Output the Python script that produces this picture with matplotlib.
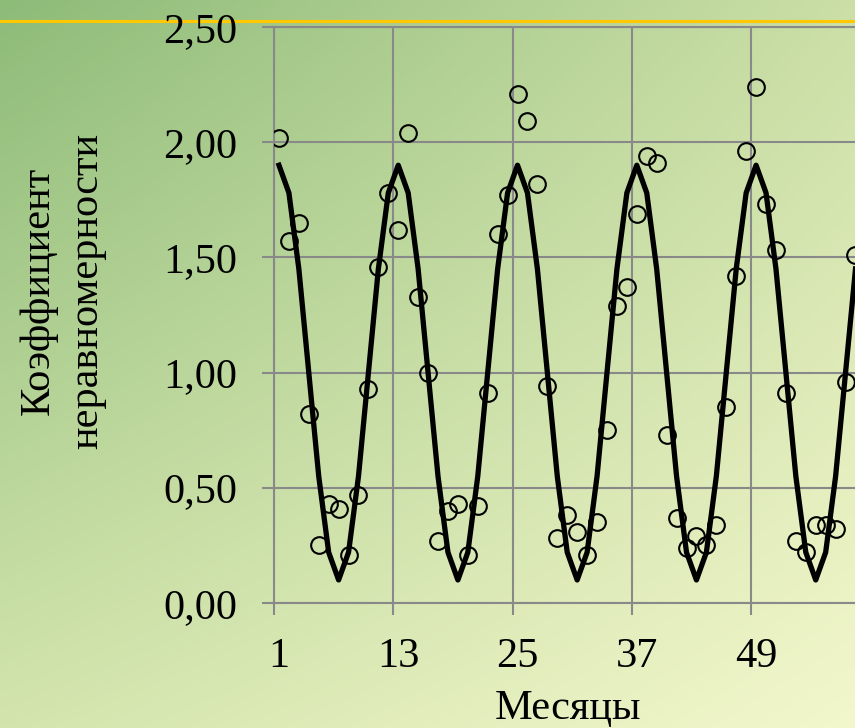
import matplotlib
matplotlib.use('Agg')
import matplotlib.pyplot as plt
import numpy as np

# месяцы и коэффициент неравномерности (точки)
months = list(range(1, 60))
coef = [2.02, 1.57, 1.65, 0.82, 0.25, 0.43, 0.41, 0.21, 0.47, 0.93, 1.46, 1.78,
        1.62, 2.04, 1.33, 1.00, 0.27, 0.40, 0.43, 0.21, 0.42, 0.91, 1.60, 1.77,
        2.21, 2.09, 1.82, 0.94, 0.28, 0.38, 0.31, 0.21, 0.35, 0.75, 1.29, 1.37,
        1.69, 1.94, 1.91, 0.73, 0.37, 0.24, 0.29, 0.25, 0.34, 0.85, 1.42, 1.96,
        2.24, 1.73, 1.53, 0.91, 0.27, 0.22, 0.34, 0.34, 0.32, 0.96, 1.51]

# линия модели
fit = [1.90, 1.78, 1.45, 1.00, 0.55, 0.22, 0.10, 0.22, 0.55, 1.00, 1.45, 1.78,
       1.90, 1.78, 1.45, 1.00, 0.55, 0.22, 0.10, 0.22, 0.55, 1.00, 1.45, 1.78,
       1.90, 1.78, 1.45, 1.00, 0.55, 0.22, 0.10, 0.22, 0.55, 1.00, 1.45, 1.78,
       1.90, 1.78, 1.45, 1.00, 0.55, 0.22, 0.10, 0.22, 0.55, 1.00, 1.45, 1.78,
       1.90, 1.78, 1.45, 1.00, 0.55, 0.22, 0.10, 0.22, 0.55, 1.00, 1.45]

xlabels = ['1', '13', '25', '37', '49']
xlabel_pos = [1, 13, 25, 37, 49]
yticks = [0.0, 0.5, 1.0, 1.5, 2.0, 2.5]
ylabels = ['0,00', '0,50', '1,00', '1,50', '2,00', '2,50']

plt.rcParams['font.family'] = ['Liberation Serif', 'DejaVu Serif']
fs = 30.5
grey = '#898989'

fig = plt.figure(figsize=(8.55, 7.28), dpi=100)

# фон - градиент
bg = fig.add_axes([0, 0, 1, 1], zorder=-10)
tl = np.array([141, 187, 120]) / 255
tr = np.array([203, 223, 166]) / 255
bl = np.array([211, 229, 173]) / 255
br = np.array([243, 247, 204]) / 255
u = np.linspace(0, 1, 200)[None, :, None]
v = np.linspace(0, 1, 200)[:, None, None]
img = (1 - u) * (1 - v) * tl + u * (1 - v) * tr + (1 - u) * v * bl + u * v * br
bg.imshow(img, aspect='auto', extent=[0, 1, 0, 1], interpolation='bilinear')
bg.set_xlim(0, 1)
bg.set_ylim(0, 1)
bg.axis('off')
bg.plot([0, 1], [1 - 20.5 / 728, 1 - 20.5 / 728], color='#ffc800', lw=2.2)

ax = fig.add_axes([274 / 855, 125 / 728, 596.4 / 855, 576 / 728])
ax.set_facecolor('none')
ax.set_xlim(0.5, 60.5)
ax.set_ylim(0, 2.5)

ax.plot(months, fit, color='black', lw=3.8, zorder=3)
ax.plot(months, coef, 'o', mfc='none', mec='black', ms=12, mew=1.5, zorder=4)

ax.set_xticks([0.5, 12.5, 24.5, 36.5, 48.5, 60.5])
ax.set_xticklabels([])
ax.set_xticks(xlabel_pos, minor=True)
ax.set_xticklabels(xlabels, minor=True, fontsize=fs)
ax.tick_params(axis='x', which='minor', length=0, pad=25)
ax.set_yticks(yticks)
ax.set_yticklabels(ylabels, fontsize=fs)
ax.tick_params(axis='both', which='major', length=8.6, width=1.5, color=grey)
ax.tick_params(axis='y', pad=18)

ax.grid(True, which='major', color=grey, lw=1.5)
for s in ['left', 'bottom', 'top']:
    ax.spines[s].set_color(grey)
    ax.spines[s].set_linewidth(1.5)
ax.spines['right'].set_visible(False)

fig.text(63 / 855, 1 - 291 / 728, 'Коэффициент\nнеравномерности', rotation=90,
         ha='center', va='center', multialignment='center', fontsize=fs,
         linespacing=1.35)
fig.text(568 / 855, 1 - 719 / 728, 'Месяцы', ha='center', va='baseline', fontsize=fs)

fig.savefig('out.png', dpi=100)
